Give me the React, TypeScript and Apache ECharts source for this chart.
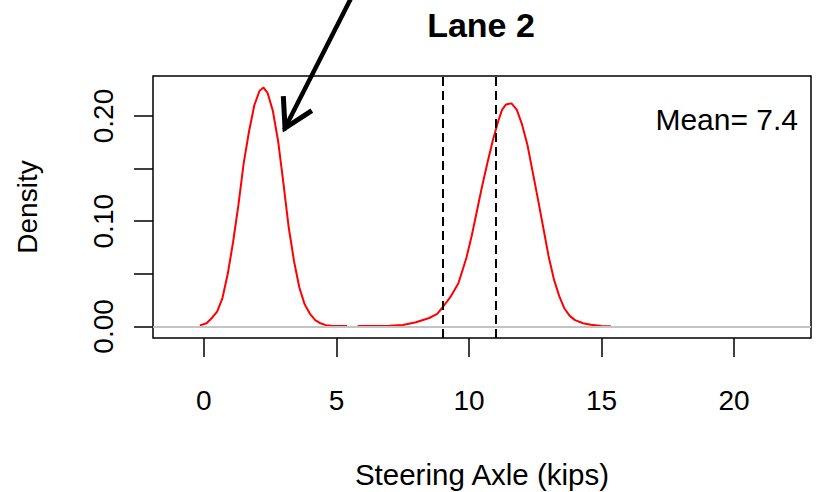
import React, { useEffect, useRef } from "react";
import * as echarts from "echarts";

// Density curve: x (kips) and density values; "-" marks a gap in the drawn line
const xValues: number[] = [
  -0.15, 0.1, 0.3, 0.5, 0.7, 0.9, 1.1, 1.3, 1.5, 1.7, 1.9, 2.1, 2.25, 2.4, 2.6, 2.8, 3.0, 3.2, 3.4, 3.6,
  3.8, 4.0, 4.2, 4.4, 4.6, 4.8, 5.0, 5.4, 5.6, 5.8, 6.5, 7.0, 7.5, 8.0, 8.5, 8.8, 9.0, 9.3, 9.6, 9.9,
  10.1, 10.3, 10.5, 10.7, 10.9, 11.1, 11.25, 11.4, 11.6, 11.8, 12.0, 12.2, 12.4, 12.6, 12.8, 13.0,
  13.2, 13.4, 13.6, 13.8, 14.0, 14.3, 14.6, 15.0, 15.35,
];
const densityValues: (number | string)[] = [
  0.001, 0.003, 0.008, 0.014, 0.027, 0.05, 0.08, 0.115, 0.155, 0.185, 0.21, 0.224, 0.227, 0.222, 0.205,
  0.176, 0.136, 0.094, 0.062, 0.037, 0.021, 0.012, 0.006, 0.003, 0.0012, 0.0006, 0.0004, 0.0003, "-",
  0.0003, 0.0004, 0.0007, 0.0014, 0.004, 0.008, 0.012, 0.018, 0.028, 0.041, 0.065, 0.086, 0.11, 0.134,
  0.156, 0.177, 0.195, 0.206, 0.211, 0.212, 0.206, 0.192, 0.173, 0.147, 0.121, 0.094, 0.067, 0.045,
  0.029, 0.017, 0.01, 0.006, 0.003, 0.0015, 0.0005, 0.0002,
];

const xTicks: number[] = [0, 5, 10, 15, 20];
const yTicks: number[] = [0, 0.05, 0.1, 0.15, 0.2];
const yTickLabels: number[] = [0, 0.1, 0.2];
const thresholdLines: number[] = [9, 11];
const titleText = "Lane 2";
const meanText = "Mean= 7.4";
const xName = "Steering Axle (kips)";
const yName = "Density";
const arrowTip: number[] = [3.06, 0.1886];

const FONT = "Liberation Sans, Arial, sans-serif";

export default function App() {
  const ref = useRef<HTMLDivElement>(null);
  useEffect(() => {
    document.body.style.margin = "0";
    if (!ref.current) return;
    const chart = echarts.init(ref.current, null, { renderer: "svg" });
    const data = xValues.map((x, i) => [x, densityValues[i]]);
    chart.setOption({
      animation: false,
      backgroundColor: "#ffffff",
      grid: {
        left: 153,
        right: 5,
        top: 76,
        bottom: 154,
        show: true,
        borderColor: "#000",
        borderWidth: 1.5,
        backgroundColor: "transparent",
        containLabel: false,
        outerBoundsMode: "none",
      },
      xAxis: {
        type: "value",
        min: -1.92,
        max: 22.9,
        name: xName,
        nameLocation: "middle",
        nameGap: 121,
        nameTextStyle: { fontFamily: FONT, fontSize: 29.5, color: "#000" },
        axisLine: { show: false, onZero: false },
        splitLine: { show: false },
        axisTick: {
          show: true,
          inside: false,
          length: 19,
          customValues: xTicks,
          lineStyle: { color: "#000", width: 1.5 },
        },
        axisLabel: {
          customValues: xTicks,
          margin: 48,
          fontFamily: FONT,
          fontSize: 28,
          color: "#000",
        },
      },
      yAxis: {
        type: "value",
        min: -0.011,
        max: 0.238,
        name: yName,
        nameLocation: "middle",
        nameGap: 112,
        nameTextStyle: { fontFamily: FONT, fontSize: 28, color: "#000" },
        axisLine: { show: false, onZero: false },
        splitLine: { show: false },
        axisTick: {
          show: true,
          inside: false,
          length: 19,
          customValues: yTicks,
          lineStyle: { color: "#000", width: 1.5 },
        },
        axisLabel: {
          customValues: yTickLabels,
          rotate: 90,
          margin: 36,
          fontFamily: FONT,
          fontSize: 28,
          color: "#000",
          formatter: (v: number) => v.toFixed(2),
        },
      },
      series: [
        {
          type: "line",
          data,
          showSymbol: false,
          symbol: "none",
          connectNulls: false,
          lineStyle: { color: "#ff0000", width: 2 },
          z: 3,
          markLine: {
            silent: true,
            symbol: "none",
            label: { show: false },
            animation: false,
            data: [
              { yAxis: 0, lineStyle: { color: "#c4c4c4", width: 2, type: "solid" } },
              ...thresholdLines.map((v) => ({
                xAxis: v,
                lineStyle: { color: "#000", width: 2, type: [9, 5] },
              })),
            ],
          },
        },
      ],
    });
    const tip = chart.convertToPixel({ gridIndex: 0 }, arrowTip) as number[];
    const tx = tip[0];
    const ty = tip[1];
    // Arrow direction (pointing down-left)
    const ux = -0.453;
    const uy = 0.891;
    const headLen = 32;
    const ang = (30 * Math.PI) / 180;
    const bx = -ux;
    const by = -uy;
    const b1 = [tx + headLen * (bx * Math.cos(ang) - by * Math.sin(ang)), ty + headLen * (bx * Math.sin(ang) + by * Math.cos(ang))];
    const b2 = [tx + headLen * (bx * Math.cos(-ang) - by * Math.sin(-ang)), ty + headLen * (bx * Math.sin(-ang) + by * Math.cos(-ang))];
    const tailLen = 160;
    chart.setOption({
      graphic: [
        {
          type: "text",
          x: 481,
          y: 25,
          style: {
            text: titleText,
            fontFamily: FONT,
            fontSize: 34,
            fontWeight: "bold",
            fill: "#000",
            align: "center",
            verticalAlign: "middle",
          },
        },
        {
          type: "text",
          x: 798,
          y: 119,
          style: {
            text: meanText,
            fontFamily: FONT,
            fontSize: 30,
            fill: "#000",
            align: "right",
            verticalAlign: "middle",
          },
        },
        {
          type: "polyline",
          shape: { points: [[tx - ux * tailLen, ty - uy * tailLen], [tx + ux * 2, ty + uy * 2]] },
          style: { stroke: "#000", lineWidth: 4.5, fill: "none" },
          z: 10,
        },
        {
          type: "polyline",
          shape: { points: [b1, [tx, ty], b2] },
          style: { stroke: "#000", lineWidth: 5, fill: "none", lineJoin: "miter" },
          z: 10,
        },
      ],
    });
    return () => chart.dispose();
  }, []);
  return <div ref={ref} style={{ width: 816, height: 492 }} />;
}
